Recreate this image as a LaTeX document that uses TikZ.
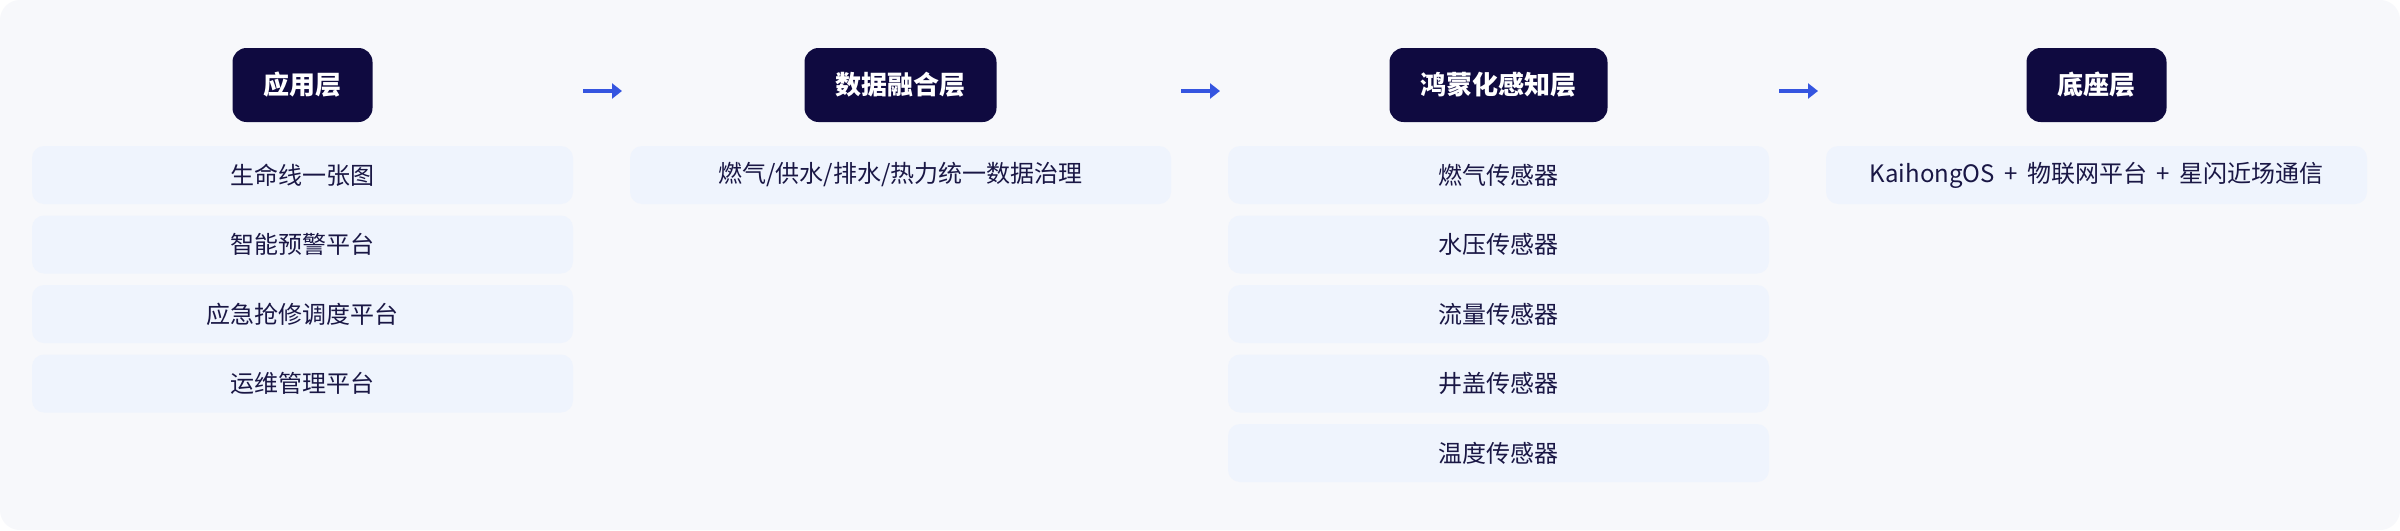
\documentclass[tikz,border=0pt]{standalone}
\usepackage{fontspec}
\setmainfont{Noto Sans CJK SC}
\usetikzlibrary{arrows.meta}
\definecolor{bgc}{HTML}{F7F8FB}
\definecolor{hdr}{HTML}{0F0A40}
\definecolor{itm}{HTML}{EFF4FD}
\definecolor{txt}{HTML}{1A1745}
\definecolor{arw}{HTML}{3555E0}
\begin{document}
\begin{tikzpicture}[x=1pt,y=1pt,
 hdrbox/.style={fill=hdr, rounded corners=14pt, text=white, font=\fontsize{26}{30}\selectfont\bfseries, minimum height=74pt, inner xsep=31pt, inner ysep=0pt},
 itmbox/.style={fill=itm, rounded corners=12pt, text=txt, font=\fontsize{24}{28}\selectfont, minimum width=541pt, minimum height=58pt, inner sep=0pt},
 arr/.style={draw=arw, line width=3.5pt, -{Triangle[length=10pt,width=15pt]}}]
\useasboundingbox (0,0) rectangle (2400,-530);
\fill[white] (0,0) rectangle (2400,-530);
\fill[bgc, rounded corners=20pt] (0,0) rectangle (2400,-530);
% headers
\node[hdrbox] (h1) at (302.5,-85) {应用层};
\node[hdrbox] (h2) at (900.5,-85) {数据融合层};
\node[hdrbox] (h3) at (1498.5,-85) {鸿蒙化感知层};
\node[hdrbox] (h4) at (2096.5,-85) {底座层};
% column 1
\node[itmbox] (a1) at (302.5,-175) {生命线一张图};
\node[itmbox] (a2) at (302.5,-244.5) {智能预警平台};
\node[itmbox] (a3) at (302.5,-314) {应急抢修调度平台};
\node[itmbox] (a4) at (302.5,-383.5) {运维管理平台};
% column 2
\node[itmbox] (b1) at (900.5,-175) {燃气/供水/排水/热力统一数据治理};
% column 3
\node[itmbox] (c1) at (1498.5,-175) {燃气传感器};
\node[itmbox] (c2) at (1498.5,-244.5) {水压传感器};
\node[itmbox] (c3) at (1498.5,-314) {流量传感器};
\node[itmbox] (c4) at (1498.5,-383.5) {井盖传感器};
\node[itmbox] (c5) at (1498.5,-453) {温度传感器};
% column 4
\node[itmbox] (d1) at (2096.5,-175) {KaihongOS\hspace{4pt} + \hspace{4pt}物联网平台\hspace{4pt} + \hspace{4pt}星闪近场通信};
% arrows
\coordinate (p1s) at (583,-91);  \coordinate (p1e) at (622,-91);
\coordinate (p2s) at (1181,-91); \coordinate (p2e) at (1220,-91);
\coordinate (p3s) at (1779,-91); \coordinate (p3e) at (1818,-91);
\draw[arr] (p1s) -- (p1e);
\draw[arr] (p2s) -- (p2e);
\draw[arr] (p3s) -- (p3e);
\end{tikzpicture}
\end{document}
